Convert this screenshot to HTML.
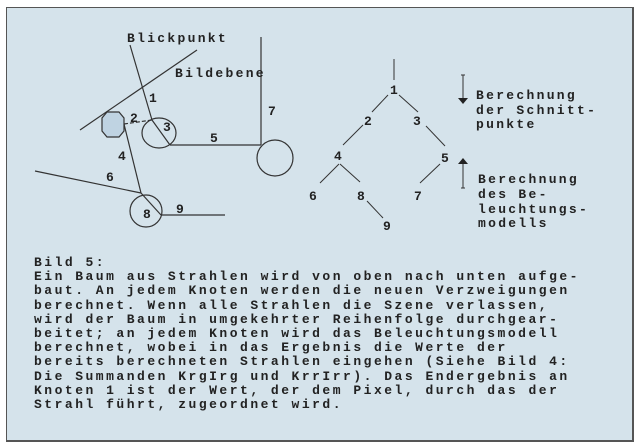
<!DOCTYPE html>
<html><head><meta charset="utf-8"><style>
body{margin:0;background:#fff;}
.f{position:absolute;left:6px;top:7px;width:625px;height:432px;background:#d5e3eb;border:1px solid #555;border-right:2px solid #555;border-bottom:2px solid #555;}
svg{position:absolute;left:0;top:0}
text{font-family:"Liberation Mono",monospace;font-size:13px;font-weight:bold;fill:#222;letter-spacing:2.3px}
.cap{position:absolute;left:34px;top:256px;font-family:"Liberation Mono",monospace;font-size:13px;font-weight:bold;color:#222;letter-spacing:2.5px;line-height:14.2px;white-space:pre}
</style></head><body>
<div class="f"></div>
<svg width="640" height="447" stroke="#333" stroke-width="1.2" fill="none">
<line x1="130" y1="45" x2="152" y2="120"/><line x1="152" y1="120" x2="170" y2="145"/>
<line x1="80" y1="130" x2="197" y2="50"/>
<polygon points="107,112 119,112 124,118 124,131 119,137 107,137 102,131 102,118" fill="#bfd3e2"/>
<line x1="124" y1="124" x2="152" y2="120" stroke-dasharray="4,2"/>
<ellipse cx="159" cy="133" rx="17" ry="15"/>
<line x1="170" y1="145" x2="261" y2="145"/>
<line x1="261" y1="37" x2="261" y2="145"/>
<circle cx="275" cy="158" r="18"/>
<line x1="124" y1="124" x2="141" y2="193"/>
<line x1="35" y1="171" x2="141" y2="193"/>
<circle cx="146" cy="211" r="16"/>
<line x1="141" y1="193" x2="161" y2="215"/><line x1="161" y1="215" x2="225" y2="215"/>
<g stroke-width="1">
<line x1="394" y1="59" x2="394" y2="80"/>
<line x1="388" y1="95" x2="372" y2="112"/><line x1="399" y1="95" x2="418" y2="112"/>
<line x1="363" y1="125" x2="343" y2="145"/><line x1="426" y1="126" x2="445" y2="146"/>
<line x1="339" y1="164" x2="320" y2="183"/><line x1="340" y1="164" x2="360" y2="182"/>
<line x1="440" y1="164" x2="420" y2="183"/><line x1="367" y1="201" x2="383" y2="218"/>
<line x1="463" y1="75" x2="463" y2="98"/><line x1="461" y1="75" x2="465" y2="75"/>
<line x1="463" y1="163" x2="463" y2="188"/><line x1="461" y1="188" x2="465" y2="188"/>
</g>
<polygon points="458,98 468,98 463,104" fill="#222" stroke="none"/>
<polygon points="458,164 468,164 463,158" fill="#222" stroke="none"/>
<g stroke="none">
<text x="127" y="42">Blickpunkt</text>
<text x="175" y="77">Bildebene</text>
<text x="149" y="102">1</text><text x="130" y="122">2</text><text x="163" y="131">3</text>
<text x="210" y="142">5</text><text x="268" y="115">7</text><text x="118" y="160">4</text>
<text x="106" y="181">6</text><text x="143" y="218">8</text><text x="176" y="213">9</text>
<text x="390" y="94">1</text><text x="364" y="125">2</text><text x="413" y="125">3</text>
<text x="334" y="160">4</text><text x="441" y="162">5</text>
<text x="309" y="200">6</text><text x="357" y="200">8</text><text x="414" y="200">7</text>
<text x="383" y="230">9</text>
<text x="476" y="99">Berechnung</text><text x="476" y="114">der Schnitt-</text><text x="476" y="128">punkte</text>
<text x="478" y="183">Berechnung</text><text x="478" y="198">des Be-</text><text x="478" y="213">leuchtungs-</text><text x="478" y="227">modells</text>
</g>
</svg>
<div class="cap">Bild 5:
Ein Baum aus Strahlen wird von oben nach unten aufge-
baut. An jedem Knoten werden die neuen Verzweigungen
berechnet. Wenn alle Strahlen die Szene verlassen,
wird der Baum in umgekehrter Reihenfolge durchgear-
beitet; an jedem Knoten wird das Beleuchtungsmodell
berechnet, wobei in das Ergebnis die Werte der
bereits berechneten Strahlen eingehen (Siehe Bild 4:
Die Summanden KrgIrg und KrrIrr). Das Endergebnis an
Knoten 1 ist der Wert, der dem Pixel, durch das der
Strahl führt, zugeordnet wird.</div>
</body></html>
